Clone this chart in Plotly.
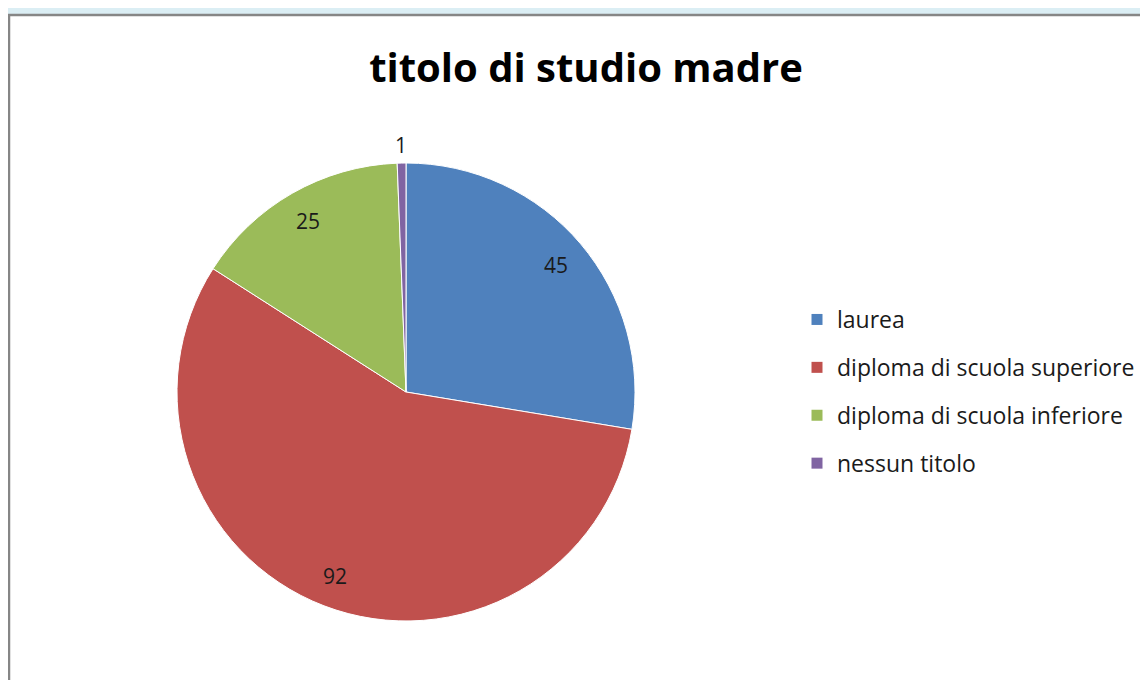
import math
import plotly.graph_objects as go

categories = ["laurea", "diploma di scuola superiore", "diploma di scuola inferiore", "nessun titolo"]
values = [45, 92, 25, 1]
colors = ["#4f81bd", "#c0504d", "#9bbb59", "#8064a2"]

W, H = 1148, 680
cx, cy, R = 398, 384, 229  # pie centre/radius in pixels (paper coordinates)
FONT = "Open Sans"

fig = go.Figure()
fig.add_trace(go.Pie(
    labels=categories, values=values, sort=False, direction="clockwise", rotation=0,
    marker=dict(colors=colors, line=dict(color="white", width=1)),
    textinfo="none", hoverinfo="label+value", showlegend=False,
    domain=dict(x=[(cx - R) / W, (cx + R) / W], y=[(H - cy - R) / H, (H - cy + R) / H]),
))

# legend via dummy traces (to get Excel-like spacing)
for i, (c, col) in enumerate(zip(categories, colors)):
    fig.add_trace(go.Scatter(x=[None], y=[None], mode="markers", name=c,
                             marker=dict(symbol="square", size=11, color=col),
                             legendgroup=f"g{i}", showlegend=True))

# data labels computed from values
total = sum(values)
start = 0.0
annotations = []
for v in values:
    span = v / total * 360
    mid = math.radians(start + span / 2)
    r = R * (0.86 if v / total > 0.02 else 1.08)
    px = cx + r * math.sin(mid)
    py = cy - r * math.cos(mid)
    annotations.append(dict(x=px / W, y=1 - py / H, xref="paper", yref="paper",
                            xanchor="center", yanchor="middle",
                            text=str(v), showarrow=False,
                            font=dict(size=21, color="#1a1a1a", family=FONT)))
    start += span

fig.update_layout(
    width=W, height=H,
    margin=dict(l=0, r=0, t=0, b=0),
    paper_bgcolor="#dbeef4",
    plot_bgcolor="rgba(0,0,0,0)",
    xaxis=dict(visible=False), yaxis=dict(visible=False),
    title=dict(text="<b>titolo di studio madre</b>", x=578 / W, xanchor="center",
               y=1 - 60 / H, yanchor="middle",
               font=dict(size=40, color="black", family=FONT)),
    legend=dict(x=789 / W, xanchor="left", y=1 - 290 / H, yanchor="top",
                tracegroupgap=15, bgcolor="rgba(0,0,0,0)",
                font=dict(size=23, color="#1a1a1a", family=FONT)),
    annotations=annotations,
    shapes=[dict(type="rect", xref="paper", yref="paper", layer="below",
                 x0=1 / W, x1=1.05, y0=-0.05, y1=1 - 7 / H,
                 fillcolor="white", line=dict(color="#868686", width=2.5))],
)

fig.write_html("out.html")
